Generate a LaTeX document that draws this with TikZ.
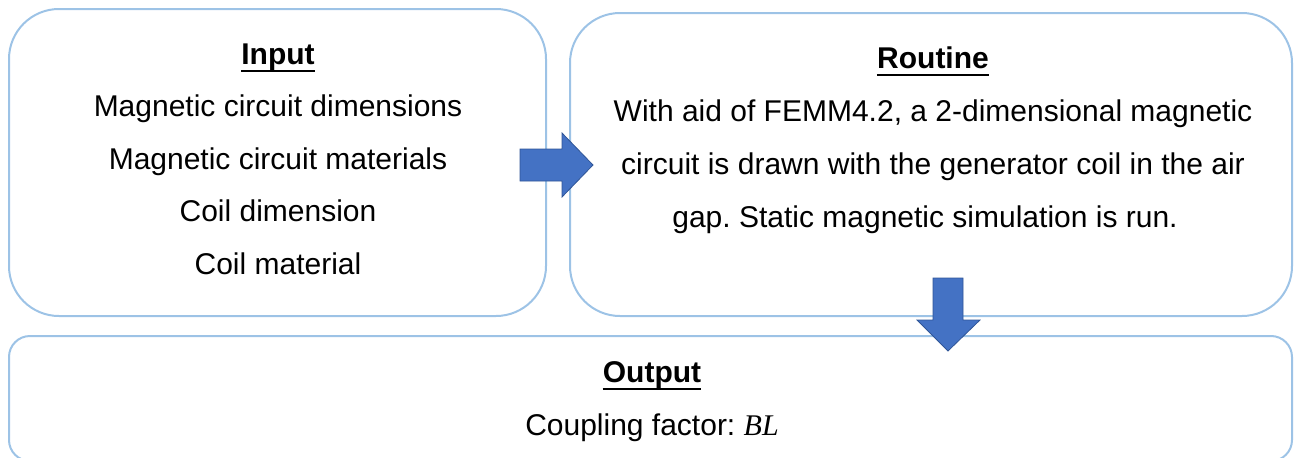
\documentclass[tikz,border=0pt]{standalone}
\usepackage{fontspec}
\setmainfont{Liberation Sans}
\newfontfamily\symbfont{Liberation Serif}
\frenchspacing
\begin{document}
\begin{tikzpicture}[x=1pt,y=-1pt,
  panel/.style={draw=panelblue, line width=2pt, rectangle, inner sep=0pt},
  body/.style={anchor=base, inner sep=0pt, text=black,
    font=\fontsize{30}{36}\selectfont},
  head/.style={body, font=\fontsize{30}{36}\selectfont\bfseries},
  blockarrow/.style={fill=arrowblue, draw=arrowedge, line width=0.8pt, line join=miter}]
\definecolor{panelblue}{HTML}{9DC3E6}
\definecolor{arrowblue}{HTML}{4472C4}
\definecolor{arrowedge}{HTML}{2F5597}
\useasboundingbox (0,0) rectangle (1294,458);

% three panels
\node[panel, rounded corners=50pt, minimum width=537pt, minimum height=307pt]
  (input) at (277.5,162.5) {};
\node[panel, rounded corners=50pt, minimum width=722pt, minimum height=303pt]
  (routine) at (931,164.5) {};
\node[panel, rounded corners=21pt, minimum width=1283pt, minimum height=125pt]
  (output) at (650.5,398.5) {};

% Input panel text
\node[head] (hin) at (278,64) {Input};
\draw[line width=2.5pt] ([yshift=-7pt]hin.base west) -- ([yshift=-7pt]hin.base east);
\node[body] (in1) at (278,116) {Magnetic circuit dimensions};
\node[body] (in2) at (278,169) {Magnetic circuit materials};
\node[body] (in3) at (278,221) {Coil dimension};
\node[body] (in4) at (278,274) {Coil material};

% Routine panel text
\node[head] (hrt) at (933,68) {Routine};
\draw[line width=2.5pt] ([yshift=-7pt]hrt.base west) -- ([yshift=-7pt]hrt.base east);
\node[body] (rt1) at (933,121) {With aid of FEMM4.2, a 2-dimensional magnetic};
\node[body] (rt2) at (933,174) {circuit is drawn with the generator coil in the air};
\node[body] (rt3) at (925,227) {gap. Static magnetic simulation is run.};

% Output panel text
\node[head] (hout) at (652,382) {Output};
\draw[line width=2.5pt] ([yshift=-7pt]hout.base west) -- ([yshift=-7pt]hout.base east);
\node[body] (out1) at (652,435) {Coupling factor: {\symbfont\itshape BL}};

% block arrows between the panels
\coordinate (ra) at (520,165);
\draw[blockarrow] ([shift={(0,-16)}]ra) -- ++(42,0) -- ++(0,-16) -- ++(31,32)
  -- ++(-31,32) -- ++(0,-16) -- ++(-42,0) -- cycle;
\coordinate (da) at (948,278);
\draw[blockarrow] ([shift={(-15,0)}]da) -- ++(30,0) -- ++(0,42) -- ++(17,0)
  -- ++(-32,31) -- ++(-31,-31) -- ++(16,0) -- cycle;
\end{tikzpicture}
\end{document}
